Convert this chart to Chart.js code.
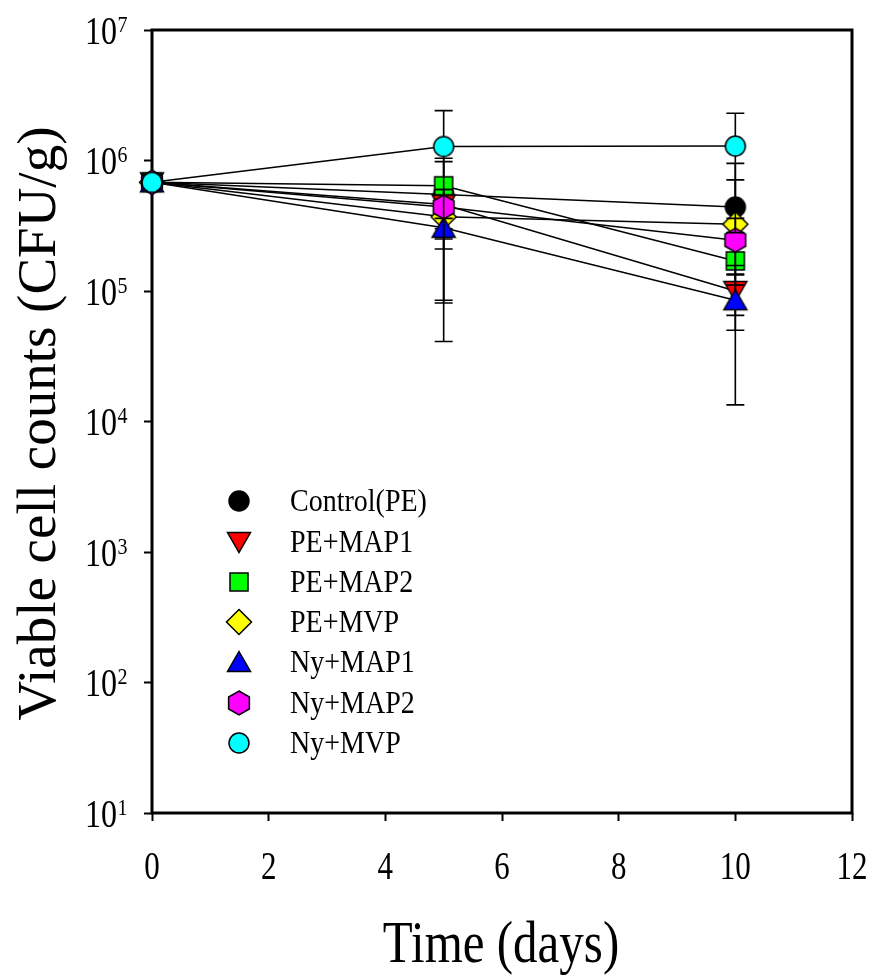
<!DOCTYPE html>
<html>
<head>
<meta charset="utf-8">
<style>
    html, body { margin: 0; padding: 0; background: #fff; }
    #wrap { width: 875px; height: 975px; }
</style>
<script src="https://cdn.jsdelivr.net/npm/chart.js@4.4.0/dist/chart.umd.min.js"></script>
</head>
<body>
<div id="wrap"><canvas id="chart" width="875" height="975"></canvas></div>
<script>
// Data

const days = [0, 5, 10];
const seriesNames = ['Control(PE)', 'PE+MAP1', 'PE+MAP2', 'PE+MVP', 'Ny+MAP1', 'Ny+MAP2', 'Ny+MVP'];

const control = [6.8e5, 5.5e5, 4.4e5];
const peMap1 = [6.8e5, 4.6e5, 1.0e5];
const peMap2 = [6.8e5, 6.4e5, 1.7e5];
const peMvp = [6.8e5, 3.7e5, 3.25e5];
const nyMap1 = [6.8e5, 3.05e5, 8.5e4];
const nyMap2 = [6.8e5, 4.4e5, 2.45e5];
const nyMvp = [6.8e5, 1.28e6, 1.29e6];

// error bar ends (low / high), null where not drawn
const controlLo = [null, 3.0e5, null];
const controlHi = [null, 9.8e5, 9.5e5];
const peMap1Lo = [null, 8.1e4, 6.5e4];
const peMap1Hi = [null, 7.0e5, 1.35e5];
const peMap2Lo = [null, 2.6e5, 1.11e5];
const peMap2Hi = [null, 1.04e6, 2.3e5];
const peMvpLo = [null, 4.1e4, 5.0e4];
const peMvpHi = [null, 6.0e5, 7.1e5];
const nyMap1Lo = [null, 2.5e5, 1.34e4];
const nyMap1Hi = [null, 3.6e5, 1.57e5];
const nyMap2Lo = [null, 2.1e5, 1.33e5];
const nyMap2Hi = [null, 6.0e5, 3.6e5];
const nyMvpLo = [null, 8.5e4, 2.8e5];
const nyMvpHi = [null, 2.41e6, 2.3e6];

const xTicks = [0, 2, 4, 6, 8, 10, 12];
const yTicks = [1e1, 1e2, 1e3, 1e4, 1e5, 1e6, 1e7];

const values = [control, peMap1, peMap2, peMvp, nyMap1, nyMap2, nyMvp];
const lows = [controlLo, peMap1Lo, peMap2Lo, peMvpLo, nyMap1Lo, nyMap2Lo, nyMvpLo];
const highs = [controlHi, peMap1Hi, peMap2Hi, peMvpHi, nyMap1Hi, nyMap2Hi, nyMvpHi];
const shapes = ['circle', 'triDown', 'square', 'diamond', 'triUp', 'hexagon', 'circle'];
const fills = ['#000000', '#ff0000', '#00ff00', '#ffff00', '#0000ff', '#ff00ff', '#00ffff'];

const serif = '"Liberation Serif", "Times New Roman", serif';

// Marker images

/**
 * Build a marker as a small canvas
 * @param {String} shape Shape name
 * @param {String} fill Fill colour
 */
function makeMarker(shape, fill) {
    let c = document.createElement('canvas');
    c.width = 30;
    c.height = 30;
    let g = c.getContext('2d');
    let cx = 15, cy = 15;
    g.beginPath();
    switch (shape) {
        case 'circle':
            g.arc(cx, cy, 10, 0, Math.PI * 2);
            break;
        case 'square':
            g.rect(cx - 9, cy - 9, 18, 18);
            break;
        case 'diamond':
            g.moveTo(cx, cy - 12.5);
            g.lineTo(cx + 12.5, cy);
            g.lineTo(cx, cy + 12.5);
            g.lineTo(cx - 12.5, cy);
            break;
        case 'triUp':
            g.moveTo(cx, cy - 10.5);
            g.lineTo(cx + 11.5, cy + 9.5);
            g.lineTo(cx - 11.5, cy + 9.5);
            break;
        case 'triDown':
            g.moveTo(cx - 11.5, cy - 9.5);
            g.lineTo(cx + 11.5, cy - 9.5);
            g.lineTo(cx, cy + 10.5);
            break;
        case 'hexagon':
            for (let k = 0; k < 6; k++) {
                let a = -Math.PI / 2 + k * Math.PI / 3;
                let px = cx + Math.cos(a) * 12;
                let py = cy + Math.sin(a) * 12;
                if (k === 0) g.moveTo(px, py);
                else g.lineTo(px, py);
            }
            break;
    }
    g.closePath();
    g.fillStyle = fill;
    g.fill();
    g.lineWidth = 1.5;
    g.strokeStyle = '#000';
    g.stroke();
    return c;
}

const markers = shapes.map((s, i) => makeMarker(s, fills[i]));

/**
 * Draw text squeezed/stretched vertically
 */
function stretchText(ctx, text, x, y, size, sy, align) {
    ctx.save();
    ctx.translate(x, y);
    ctx.scale(1, sy);
    ctx.font = `${size}px ${serif}`;
    ctx.textAlign = align;
    ctx.textBaseline = 'alphabetic';
    ctx.fillStyle = '#000';
    ctx.fillText(text, 0, 0);
    ctx.restore();
}

// Plugins

const frame = {
    id: 'frame',
    beforeDatasetsDraw(chart) {
        let a = chart.chartArea;
        let ctx = chart.ctx;
        ctx.save();
        ctx.lineWidth = 3;
        ctx.strokeStyle = '#000';
        ctx.strokeRect(a.left, a.top, a.right - a.left, a.bottom - a.top);
        ctx.restore();
    }
};

const errorBars = {
    id: 'errorBars',
    beforeDatasetDraw(chart, args) {
        let i = args.index;
        let xs = chart.scales.x;
        let ys = chart.scales.y;
        let ctx = chart.ctx;
        ctx.save();
        ctx.lineWidth = 1.6;
        ctx.strokeStyle = '#000';
        days.forEach((d, j) => {
            let x = xs.getPixelForValue(d);
            let y = ys.getPixelForValue(values[i][j]);
            [lows[i][j], highs[i][j]].forEach(v => {
                if (v === null) return;
                let ye = ys.getPixelForValue(v);
                ctx.beginPath();
                ctx.moveTo(x, y);
                ctx.lineTo(x, ye);
                ctx.moveTo(x - 9, ye);
                ctx.lineTo(x + 9, ye);
                ctx.stroke();
            });
        });
        ctx.restore();
    }
};

const labels = {
    id: 'labels',
    afterDraw(chart) {
        let ctx = chart.ctx;
        let xs = chart.scales.x;
        let ys = chart.scales.y;

        xTicks.forEach(t => {
            stretchText(ctx, String(t), xs.getPixelForValue(t), 879, 31, 1.27, 'center');
        });

        yTicks.forEach(t => {
            let py = ys.getPixelForValue(t);
            stretchText(ctx, '10', 117, py + 13.5, 32, 1.27, 'right');
            stretchText(ctx, String(Math.round(Math.log10(t))), 117.5, py + 1.5, 20, 1.2, 'left');
        });

        // axis titles
        stretchText(ctx, 'Time (days)', 501, 962, 49, 1.2, 'center');
        ctx.save();
        ctx.translate(55, 423.5);
        ctx.rotate(-Math.PI / 2);
        ctx.font = `55px ${serif}`;
        ctx.textAlign = 'center';
        ctx.textBaseline = 'alphabetic';
        ctx.fillStyle = '#000';
        ctx.fillText('Viable cell counts (CFU/g)', 0, 0);
        ctx.restore();

        // legend inside the plot
        let rows = [501, 542, 582, 622, 662, 703, 743];
        seriesNames.forEach((name, i) => {
            let m = markers[i];
            ctx.drawImage(m, 239 - m.width / 2, rows[i] - m.height / 2);
            stretchText(ctx, name, 290, rows[i] + 9.5, 28, 1.1, 'left');
        });
    }
};

// Chart

let datasets = seriesNames.map((name, i) => ({
    label: name,
    data: days.map((d, j) => ({ x: d, y: values[i][j] })),
    borderColor: '#000',
    borderWidth: 1.5,
    pointStyle: markers[i],
    pointRadius: 10,
    clip: false,
    order: seriesNames.length - i
}));

let ctx = document.getElementById('chart').getContext('2d');
let chart = new Chart(ctx, {
    type: 'line',
    data: { datasets: datasets },
    plugins: [frame, errorBars, labels],
    options: {
        responsive: false,
        animation: false,
        devicePixelRatio: 1,
        layout: { padding: { left: 0, top: 30, right: 23, bottom: 0 } },
        plugins: { legend: { display: false }, tooltip: { enabled: false } },
        scales: {
            x: {
                type: 'linear',
                min: 0,
                max: 12,
                afterBuildTicks: s => { s.ticks = xTicks.map(v => ({ value: v })); },
                afterFit: s => { s.height = 162; },
                ticks: { display: false },
                border: { display: false },
                grid: {
                    drawOnChartArea: false,
                    drawTicks: true,
                    tickLength: 8,
                    tickWidth: 2,
                    tickColor: '#000'
                }
            },
            y: {
                type: 'logarithmic',
                min: 10,
                max: 1e7,
                afterBuildTicks: s => { s.ticks = yTicks.map(v => ({ value: v })); },
                afterFit: s => { s.width = 152; },
                ticks: { display: false },
                border: { display: false },
                grid: {
                    drawOnChartArea: false,
                    drawTicks: true,
                    tickLength: 8,
                    tickWidth: 2,
                    tickColor: '#000'
                }
            }
        }
    }
});
</script>
</body>
</html>
